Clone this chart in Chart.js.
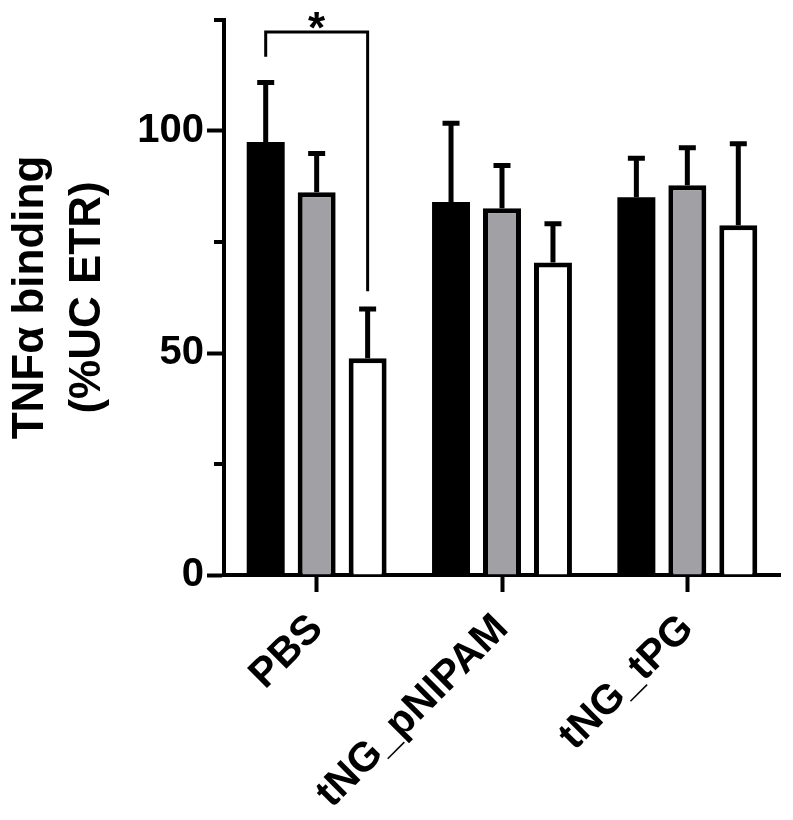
<!DOCTYPE html>
<html>
<head>
<meta charset="utf-8">
<script src="https://cdn.jsdelivr.net/npm/chart.js@4.4.1/dist/chart.umd.min.js"></script>
<style>
  html, body { margin: 0; padding: 0; background: #fff; }
  #wrap { width: 793px; height: 820px; }
</style>
</head>
<body>
<div id="wrap"><canvas id="chart"></canvas></div>
<script>
const groups = ['PBS', 'tNG_pNIPAM', 'tNG_tPG'];
const blackMean = [97.5, 84.0, 85.1];
const blackSd = [14.0, 18.3, 9.3];
const greyMean = [86.2, 82.6, 87.8];
const greySd = [9.3, 10.2, 9.0];
const whiteMean = [48.8, 70.4, 78.8];
const whiteSd = [11.7, 9.3, 18.9];
const yTicks = [0, 25, 50, 75, 100, 125];
const yLabels = ['0', '', '50', '', '100', ''];
// bracket between PBS black and PBS white
const sigTop = 122.3;
const sigLegEnds = [116.7, 63.9];
const sigText = '*';

const FONT = "'Liberation Sans', Arial, sans-serif";

// error bars (upper only) + minor y ticks + significance bracket
const extras = {
    id: 'extras',
    afterDatasetsDraw(chart) {
        const ctx = chart.ctx;
        const y = chart.scales.y;
        ctx.save();
        ctx.strokeStyle = '#000';
        ctx.lineWidth = 5;
        ctx.lineCap = 'butt';
        chart.data.datasets.forEach((ds, i) => {
            const meta = chart.getDatasetMeta(i);
            meta.data.forEach((bar, j) => {
                const top = y.getPixelForValue(ds.data[j] + ds.sd[j]);
                ctx.beginPath();
                ctx.moveTo(bar.x, bar.y);
                ctx.lineTo(bar.x, top + 2.5);
                ctx.moveTo(bar.x - 8.5, top + 2.5);
                ctx.lineTo(bar.x + 8.5, top + 2.5);
                ctx.stroke();
            });
        });

        // minor ticks
        const left = chart.chartArea.left;
        ctx.lineWidth = 4;
        yTicks.forEach((v, i) => {
            if (yLabels[i] !== '') return;
            const py = y.getPixelForValue(v);
            ctx.beginPath();
            ctx.moveTo(left - 10, py);
            ctx.lineTo(left, py);
            ctx.stroke();
        });

        // bracket
        const x1 = chart.getDatasetMeta(0).data[0].x;
        const x2 = chart.getDatasetMeta(2).data[0].x;
        const ty = y.getPixelForValue(sigTop);
        ctx.lineWidth = 3;
        ctx.beginPath();
        ctx.moveTo(x1, y.getPixelForValue(sigLegEnds[0]));
        ctx.lineTo(x1, ty);
        ctx.lineTo(x2, ty);
        ctx.lineTo(x2, y.getPixelForValue(sigLegEnds[1]));
        ctx.stroke();

        ctx.fillStyle = '#000';
        ctx.font = 'bold 44px ' + FONT;
        ctx.textAlign = 'center';
        ctx.textBaseline = 'alphabetic';
        ctx.fillText(sigText, (x1 + x2) / 2, ty + 11);
        ctx.restore();
    }
};

new Chart(document.getElementById('chart'), {
    type: 'bar',
    data: {
        labels: groups,
        datasets: [
            { label: 'black', data: blackMean, sd: blackSd, backgroundColor: '#000', borderColor: '#000', borderWidth: 0 },
            { label: 'grey', data: greyMean, sd: greySd, backgroundColor: '#a1a1a5', borderColor: '#000', borderWidth: 5 },
            { label: 'white', data: whiteMean, sd: whiteSd, backgroundColor: '#fff', borderColor: '#000', borderWidth: 5 }
        ]
    },
    options: {
        responsive: true,
        maintainAspectRatio: false,
        animation: false,
        categoryPercentage: 0.825,
        barPercentage: 0.745,
        layout: { padding: { top: 20, right: 13, left: 0, bottom: 0 } },
        plugins: {
            legend: { display: false },
            tooltip: { enabled: false }
        },
        scales: {
            x: {
                afterFit: (s) => { s.height = 245; s.paddingLeft = 0; s.paddingRight = 0; },
                border: { color: '#000', width: 4 },
                grid: { offset: false, drawOnChartArea: false, tickLength: 17, tickWidth: 4, tickColor: '#000' },
                ticks: {
                    maxRotation: 45, minRotation: 45,
                    font: { family: FONT, size: 41, weight: 'bold' },
                    color: '#000', padding: 13
                }
            },
            y: {
                min: 0, max: 125,
                afterBuildTicks: (s) => { s.ticks = yTicks.map(v => ({ value: v })); },
                afterFit: (s) => { s.width = 224; s.paddingTop = 0; s.paddingBottom = 0; },
                border: { color: '#000', width: 4 },
                grid: {
                    drawOnChartArea: false, tickLength: 17, tickWidth: 4,
                    tickColor: (c) => yLabels[yTicks.indexOf(c.tick.value)] !== '' ? '#000' : 'rgba(0,0,0,0)'
                },
                ticks: {
                    callback: (v) => yLabels[yTicks.indexOf(v)],
                    font: { family: FONT, size: 40, weight: 'bold' },
                    color: '#000', padding: 3
                },
                title: {
                    display: true,
                    text: ['TNFα binding', '(%UC ETR)'],
                    font: { family: FONT, size: 44, weight: 'bold', lineHeight: 1.3 },
                    color: '#000',
                    padding: { top: 2, bottom: 0 }
                }
            }
        }
    },
    plugins: [extras]
});
</script>
</body>
</html>
